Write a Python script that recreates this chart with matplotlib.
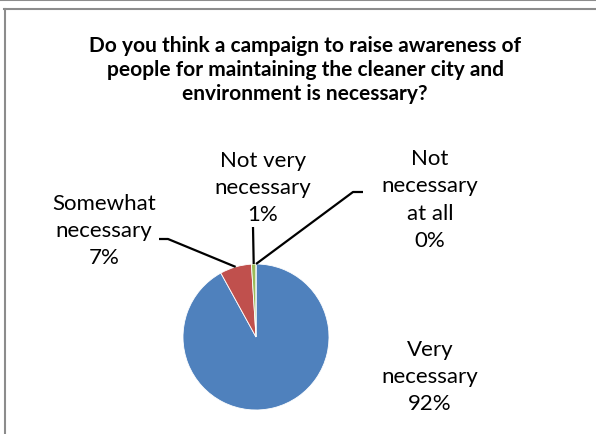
import numpy as np
import matplotlib.pyplot as plt
from matplotlib.lines import Line2D

# Données
labels = ["Very\nnecessary", "Somewhat\nnecessary", "Not very\nnecessary", "Not\nnecessary\nat all"]
values = [92, 7, 1, 0]
colors = ["#4F81BD", "#C0504D", "#9BBB59", "#8064A2"]

title = ("Do you think a campaign to raise awareness of\n"
         "people for maintaining the cleaner city and\n"
         "environment is necessary?")

W, H = 596, 435
fig = plt.figure(figsize=(W / 100, H / 100), dpi=100)
ax = fig.add_axes([0, 0, 1, 1])

# pie in pixel coordinates (y upward)
cx, cy, r = 256, H - 338, 73
wedges, _ = ax.pie(values, colors=colors, startangle=90, counterclock=False,
                   center=(cx, cy), radius=r, frame=True,
                   wedgeprops=dict(linewidth=0.6, edgecolor='white'))
ax.set_xlim(0, W)
ax.set_ylim(0, H)
ax.axis('off')

font = 'Lato'
fs = 16

# label positions (pixels, top-left origin) and elbow points of the leader lines
label_pos = [(430, 377), (104, 231), (263, 188), (430, 200)]
elbows = [None, [(159, 240), (168, 240)], [(253, 228)], [(363, 193), (353, 193)]]

for i, (lab, v) in enumerate(zip(labels, values)):
    txt = f"{lab}\n{v}%"
    x, y = label_pos[i]
    ax.text(x, H - y, txt, ha='center', va='center', fontsize=fs,
            family=font, linespacing=1.45)
    if elbows[i] is None:
        continue
    # anchor on outer edge of the wedge at its mid angle
    w = wedges[i]
    ang = np.deg2rad((w.theta1 + w.theta2) / 2)
    ax_, ay_ = cx + r * np.cos(ang), cy + r * np.sin(ang)
    pts = [(px, H - py) for px, py in elbows[i]] + [(ax_, ay_)]
    xs, ys = zip(*pts)
    ax.plot(xs, ys, color='black', linewidth=1.6, solid_capstyle='butt')

ax.text(305, H - 70, title, ha='center', va='center', fontsize=15,
        family=font, fontweight='bold', linespacing=1.27)

# cadre gris
fig.add_artist(Line2D([0, 1], [1 - 1 / H, 1 - 1 / H], color='#8c8c8c', linewidth=1.5))
fig.add_artist(Line2D([4 / W, 1], [1 - 9.5 / H, 1 - 9.5 / H], color='#8c8c8c', linewidth=1.5))
fig.add_artist(Line2D([4.5 / W, 4.5 / W], [0, 1 - 9.5 / H], color='#8c8c8c', linewidth=1.5))

fig.savefig("out.png", dpi=100)
